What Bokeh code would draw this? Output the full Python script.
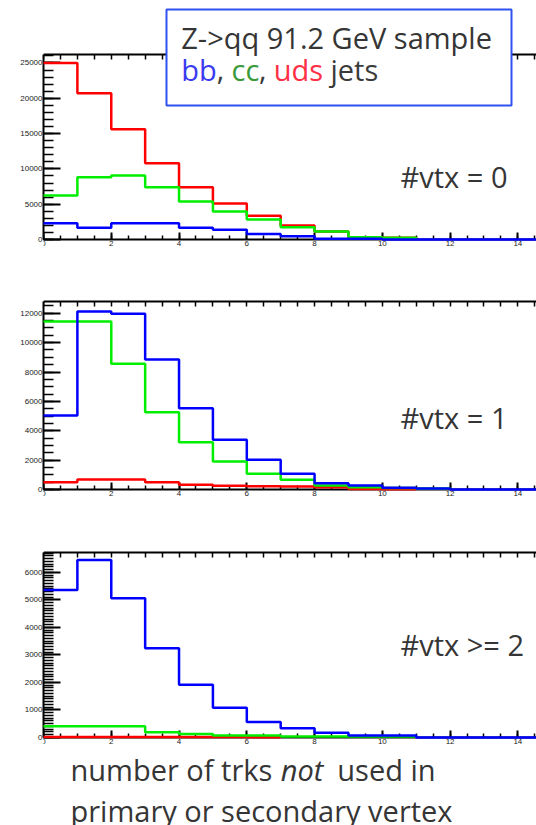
from bokeh.plotting import figure
from bokeh.layouts import column
from bokeh.models import (Label, BoxAnnotation, LinearAxis, SingleIntervalTicker, FixedTicker,
                          Range1d)
from bokeh.embed import file_html
from bokeh.resources import INLINE

# ---------------- data (bin contents, bins of width 1 starting at 0) ----------------
bin_edges = list(range(0, 16))

# panel 1: #vtx = 0
p1_red = [25000, 20700, 15600, 10800, 7400, 5100, 3350, 1980, 1130, 330, 240]
p1_green = [6230, 8820, 9060, 7410, 5380, 3960, 2830, 1740, 1130, 330, 240]
p1_blue = [2310, 1660, 2310, 2310, 1660, 1370, 780, 470, 100, 100, 0, 0, 0, 0, 0]

# panel 2: #vtx = 1
p2_red = [500, 680, 680, 500, 330, 250, 220, 200, 150, 40, 20]
p2_green = [11440, 11440, 8560, 5260, 3220, 1910, 1070, 660, 270, 150, 100, 60]
p2_blue = [5040, 12120, 11960, 8850, 5540, 3380, 2020, 1070, 430, 270, 120, 60, 0, 0, 0]

# panel 3: #vtx >= 2
p3_red = [20, 20, 20, 20, 15, 15, 10]
p3_green = [410, 410, 410, 190, 130, 70, 70, 40, 40, 40, 40]
p3_blue = [5360, 6450, 5060, 3240, 1920, 1080, 560, 340, 170, 70, 70, 0, 0, 0, 0]

panel_labels = ["#vtx = 0", "#vtx = 1", "#vtx >= 2"]
y_max = [26200, 12800, 6720]
y_tick_step = [5000, 2000, 1000]
y_minor = [5, 4, 10]
x_tick_step = 2
x_max = 14.55

title_line1 = "Z->qq 91.2 GeV sample"
title_line2 = [("bb", "#3a3af0"), (",", "#3b3b3b"), ("cc", "#3a9a3a"), (",", "#3b3b3b"),
               ("uds", "#ff3045"), ("jets", "#3b3b3b")]
xlabel_parts = [("number of trks", "normal"), ("not", "italic"), ("used in", "normal")]
xlabel_line2 = "primary or secondary vertex"

RED, GREEN, BLUE = "#ff0000", "#00ee00", "#0000ff"
TXT = "#353535"
FONT = "Open Sans"
TEXT_SHIFT = 11   # renderer places the alphabetic baseline this much lower than requested

# ---------------- layout geometry (page pixels) ----------------
LEFT = 43
FRAME_W = 536 - LEFT
# (page y of figure top, figure height, page y of histogram top, page y of histogram bottom)
geo = [(0, 270, 54, 239), (270, 250, 301, 489), (520, 305, 552, 737)]


def scale(i):
    top, h, htop, hbot = geo[i]
    k = y_max[i] / (hbot - htop)          # data units per pixel
    return top, h, hbot, k


def make_panel(i):
    top, h, hbot, k = scale(i)
    y0 = (hbot - (top + h)) * k
    y1 = (hbot - top) * k
    p = figure(width=536, height=h, x_range=Range1d(0, x_max), y_range=Range1d(y0, y1),
               output_backend="svg", toolbar_location=None,
               x_axis_location=None, y_axis_location=None,
               min_border_left=LEFT, min_border_right=0,
               min_border_top=0, min_border_bottom=0)
    p.outline_line_color = None
    p.background_fill_color = "white"
    p.border_fill_color = "white"
    p.xgrid.grid_line_color = None
    p.ygrid.grid_line_color = None

    def style(ax, tin, tmin):
        ax.axis_line_width = 2
        ax.axis_line_color = "black"
        ax.major_tick_in = tin
        ax.major_tick_out = 0
        ax.minor_tick_in = tmin
        ax.minor_tick_out = 0
        ax.major_tick_line_width = 2
        ax.minor_tick_line_width = 1.5
        ax.major_label_standoff = 1
        ax.major_label_text_font_size = "8px"
        ax.major_label_text_color = "#222222"
        ax.major_label_text_font = "Liberation Sans"

    xb = LinearAxis(ticker=SingleIntervalTicker(interval=x_tick_step, num_minor_ticks=4),
                    fixed_location=0, bounds=(0, x_max))
    style(xb, 7, 4)
    p.add_layout(xb, "below")
    top_ticks = [kk * 0.5 for kk in range(0, 30)]
    xt = LinearAxis(ticker=FixedTicker(ticks=[], minor_ticks=top_ticks),
                    fixed_location=y_max[i], bounds=(0, x_max))
    style(xt, 7, 5)
    p.add_layout(xt, "above")
    yl = LinearAxis(ticker=SingleIntervalTicker(interval=y_tick_step[i], num_minor_ticks=y_minor[i]),
                    bounds=(0, y_max[i]))
    style(yl, 17, 10)
    p.add_layout(yl, "left")
    return p


def hist(p, vals, color):
    xs = bin_edges[:len(vals) + 1]
    ys = list(vals) + [0]
    p.step(xs, ys, mode="after", line_color=color, line_width=2.5, level="overlay")


def dx(px):
    return (px - LEFT) * x_max / FRAME_W


def dy(i, py):
    top, h, hbot, k = scale(i)
    return (hbot - py) * k


def text(p, i, px, py, txt, color=TXT, style="normal"):
    p.add_layout(Label(x=dx(px), y=dy(i, py - TEXT_SHIFT), text=txt,
                       text_font=FONT, text_font_style=style, text_font_size="29px",
                       text_color=color, text_align="left", text_baseline="alphabetic"))


data = [(p1_red, p1_green, p1_blue), (p2_red, p2_green, p2_blue), (p3_red, p3_green, p3_blue)]
label_pos = [(400, 186.7), (400, 428.3), (400, 655)]

panels = []
for i in range(3):
    p = make_panel(i)
    r, g, b = data[i]
    hist(p, r, RED)
    hist(p, g, GREEN)
    hist(p, b, BLUE)
    lx, ly = label_pos[i]
    text(p, i, lx, ly, panel_labels[i])
    panels.append(p)

# title box on panel 1
p1 = panels[0]
p1.add_layout(BoxAnnotation(left=dx(166), right=dx(511), top=dy(0, 9), bottom=dy(0, 105),
                            fill_color="white", fill_alpha=1.0,
                            line_color="#3050f0", line_alpha=1.0, line_width=2))
text(p1, 0, 180.7, 48.3, title_line1)
line2_x = [180.7, 216.3, 231, 258.6, 273.2, 330]
for (txt, col), px in zip(title_line2, line2_x):
    text(p1, 0, px, 80, txt, color=col)

# x-axis caption under panel 3
p3 = panels[2]
for (txt, st), px in zip(xlabel_parts, [70, 280.3, 336.8]):
    text(p3, 2, px, 779.6, txt, style=st)
text(p3, 2, 70, 821, xlabel_line2)

layout = column(*panels, spacing=0)
open("out.html", "w").write(file_html(layout, INLINE))
